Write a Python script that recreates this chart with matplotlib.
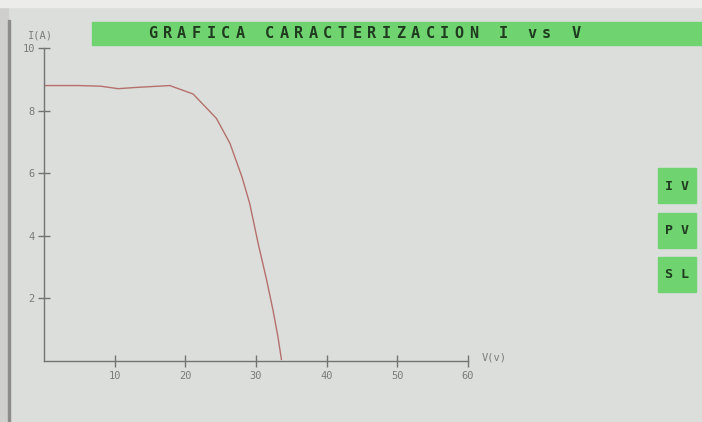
import matplotlib.pyplot as plt
from matplotlib.patches import Rectangle

# I-V curve
voltage = [0, 5, 8, 10.5, 13, 17.8, 21.1, 24.4, 26.3, 28.0, 29.1, 30.3, 31.5, 32.4, 33.1, 33.6]
current = [8.8, 8.8, 8.78, 8.7, 8.74, 8.8, 8.53, 7.75, 6.96, 5.89, 5.04, 3.76, 2.59, 1.63, 0.78, 0.05]

x_ticks = [10, 20, 30, 40, 50, 60]
y_ticks = [2, 4, 6, 8, 10]
title = "GRAFICA CARACTERIZACION I vs V"
buttons = ["I V", "P V", "S L"]

W, H = 702, 422
bg = "#dcdedc"
green = "#6fd46f"
axis_col = "#737373"
mono = "DejaVu Sans Mono"

fig = plt.figure(figsize=(W / 100, H / 100), dpi=100)
fig.patch.set_facecolor(bg)


def fx(px):
    return px / W


def fy(py):
    return 1 - py / H


# photo edges
fig.add_artist(Rectangle((0, 0), fx(8), 1, transform=fig.transFigure, color="#cfd0ce", zorder=0))
fig.add_artist(Rectangle((fx(8), 0), fx(2), fy(20), transform=fig.transFigure, color="#8c8c8a", zorder=0))
fig.add_artist(Rectangle((0, fy(7)), 1, 7 / H, transform=fig.transFigure, color="#ececeb", zorder=0))

# title banner
fig.add_artist(Rectangle((fx(92), fy(45)), fx(W - 92), 23 / H, transform=fig.transFigure,
                         color=green, zorder=1))
for i, ch in enumerate(title):
    fig.text(fx(148 + i * 14.6), fy(34), ch, fontsize=11, fontfamily=mono, fontweight="bold",
             color="#1f3a1f", ha="left", va="center", zorder=2)

# side buttons
for k, lab in enumerate(buttons):
    top = 168 + k * 44.5
    fig.add_artist(Rectangle((fx(658), fy(top + 35)), fx(38), 35 / H, transform=fig.transFigure,
                             color=green, zorder=1))
    fig.text(fx(677), fy(top + 18), lab, fontsize=9.5, fontfamily=mono, fontweight="bold",
             color="#1f3a1f", ha="center", va="center", zorder=2)

ax = fig.add_axes([fx(44), 61 / H, fx(424), 313 / H])
ax.set_facecolor("none")
ax.plot(voltage, current, color="#b5706b", lw=1.0)
ax.set_xlim(0, 60)
ax.set_ylim(0, 10)
for s in ["top", "right"]:
    ax.spines[s].set_visible(False)
for s in ["left", "bottom"]:
    ax.spines[s].set_color(axis_col)
    ax.spines[s].set_linewidth(1.0)
ax.set_xticks(x_ticks)
ax.set_yticks(y_ticks)
ax.tick_params(direction="inout", length=9, width=1, color=axis_col, labelcolor="#7a7a7a",
               labelsize=7.5)
for lab in ax.get_xticklabels() + ax.get_yticklabels():
    lab.set_fontfamily(mono)
ax.tick_params(axis="x", pad=3)
ax.tick_params(axis="y", pad=2)

fig.text(fx(28), fy(36), "I(A)", fontsize=7.5, fontfamily=mono, color="#7a7a7a", va="center")
fig.text(fx(482), fy(358), "V(v)", fontsize=7.5, fontfamily=mono, color="#7a7a7a", va="center")

fig.savefig("out.png", dpi=100, facecolor=bg)
